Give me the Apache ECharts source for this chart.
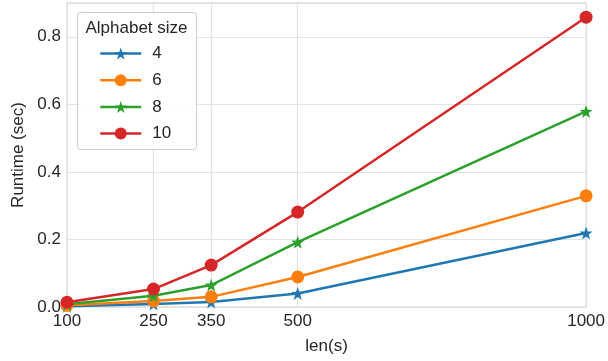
<!DOCTYPE html>
<html>
<head>
<meta charset="utf-8">
<script src="https://cdn.jsdelivr.net/npm/echarts@6/dist/echarts.min.js"></script>
<style>html,body{margin:0;padding:0;background:#fff}#c{width:608px;height:361px}</style>
</head>
<body>
<div id="c"></div>
<script>
const lengths = [100, 250, 350, 500, 1000];
const xTicks = [100, 250, 350, 500, 1000];
const seriesNames = ['4', '6', '8', '10'];
const alpha4 = [0.002, 0.009, 0.015, 0.040, 0.219];
const alpha6 = [0.005, 0.018, 0.030, 0.089, 0.329];
const alpha8 = [0.008, 0.033, 0.065, 0.192, 0.579];
const alpha10 = [0.014, 0.053, 0.124, 0.281, 0.858];
const legendTitle = 'Alphabet size';
const xName = 'len(s)';
const yName = 'Runtime (sec)';

const FONT = 'Liberation Sans';
const FS = 17;
const TXT = '#262626';
const colors = ['#1f77b4', '#ff7f0e', '#2ca02c', '#d62728'];
const star = 'path://M0,-10 L2.35,-3.24 L9.51,-3.09 L3.8,1.24 L5.88,8.09 L0,4 L-5.88,8.09 L-3.8,1.24 L-9.51,-3.09 L-2.35,-3.24 Z';
const symbols = [star, 'circle', star, 'circle'];
const values = [alpha4, alpha6, alpha8, alpha10];

const chart = echarts.init(document.getElementById('c'), null, {renderer: 'canvas'});
chart.setOption({
  animation: false,
  backgroundColor: '#fff',
  textStyle: {fontFamily: FONT, color: TXT},
  grid: {left: 67, right: 20, top: 3, bottom: 54, show: true, borderColor: '#dcdcdc', borderWidth: 1.3},
  xAxis: {
    type: 'value', min: 100, max: 1000,
    name: xName, nameLocation: 'middle', nameGap: 31,
    nameTextStyle: {fontFamily: FONT, fontSize: FS, color: TXT},
    axisLine: {show: false},
    axisTick: {show: false, customValues: xTicks},
    axisLabel: {customValues: xTicks, fontFamily: FONT, fontSize: FS, color: TXT, margin: 6,
      formatter: v => String(v)},
    splitLine: {show: true, lineStyle: {color: '#e3e3e3', width: 1.2}}
  },
  yAxis: {
    type: 'value', min: 0, max: 0.9, interval: 0.2,
    name: yName, nameLocation: 'middle', nameGap: 39,
    nameTextStyle: {fontFamily: FONT, fontSize: FS, color: TXT},
    axisLine: {show: false},
    axisTick: {show: false},
    axisLabel: {fontFamily: FONT, fontSize: FS, color: TXT, margin: 6,
      formatter: v => v.toFixed(1), showMaxLabel: false},
    splitLine: {show: true, lineStyle: {color: '#e3e3e3', width: 1.2}}
  },
  graphic: [
    {type: 'rect', z: 3, shape: {x: 77.5, y: 12.5, width: 119, height: 137, r: 3},
      style: {fill: 'rgba(255,255,255,0.85)', stroke: '#cccccc', lineWidth: 1}},
    {type: 'text', z: 4, x: 136.5, y: 28, style: {text: legendTitle, fontFamily: FONT, fontSize: FS,
      fill: TXT, align: 'center', verticalAlign: 'middle'}}
  ],
  legend: {
    orient: 'vertical', left: 99, top: 45, padding: 0, itemWidth: 41, itemHeight: 15, itemGap: 9.7,
    data: seriesNames,
    lineStyle: {width: 2.5},
    textStyle: {fontFamily: FONT, fontSize: FS, color: TXT, lineHeight: 15, padding: [0, 0, 0, 6]}
  },
  series: seriesNames.map((n, i) => ({
    name: n, type: 'line',
    data: lengths.map((x, j) => [x, values[i][j]]),
    symbol: symbols[i], symbolSize: 13,
    showAllSymbol: true,
    lineStyle: {width: 2.5, color: colors[i]},
    itemStyle: {color: colors[i]},
    color: colors[i],
    z: 2 + i
  }))
});
</script>
</body>
</html>
